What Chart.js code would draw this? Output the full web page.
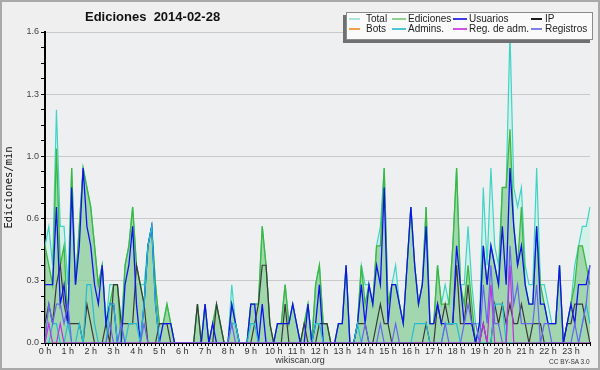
<!DOCTYPE html>
<html><head><meta charset="utf-8">
<script src="https://cdn.jsdelivr.net/npm/chart.js@4.4.1/dist/chart.umd.min.js"></script>
<style>
html,body{margin:0;padding:0;background:#efefef;}
#wrap{position:relative;width:600px;height:370px;background:#efefef;overflow:hidden;}
#wrap canvas{position:absolute;left:0;top:0;}
#frame{position:absolute;left:0;top:0;width:600px;height:370px;box-sizing:border-box;border:2px solid #a9a9a9;pointer-events:none;}
.t{position:absolute;white-space:pre;font-family:"Liberation Sans",Arial,sans-serif;color:#222;}
#title{left:85px;top:10px;font-size:13px;line-height:13px;font-weight:bold;color:#111;}
#lbox{position:absolute;left:346px;top:12px;width:247px;height:28px;box-sizing:border-box;background:#fafafa;border:1px solid #8a8a8a;box-shadow:-3px 3px 0 #707070;}
.sw{position:absolute;height:1.5px;}
.lt{font-size:10px;line-height:10px;color:#222;}
#site{left:0;width:600px;text-align:center;top:356px;font-size:9px;line-height:9px;color:#333;}
#cc{left:549px;top:359px;font-size:6.5px;line-height:6.5px;color:#333;}
</style></head>
<body>
<div id="wrap">
<canvas id="c" width="600" height="370"></canvas>
<div class="t" id="title">Ediciones  2014-02-28</div>
<div id="lbox"></div>
<div id="legend"></div>
<div class="t" id="site">wikiscan.org</div>
<div class="t" id="cc">CC BY-SA 3.0</div>
<div id="frame"></div>
</div>
<script>
// ---- data (edits per minute, 10-minute bins, 00:00 .. 23:50) ----
const hourLabels = ["0 h","1 h","2 h","3 h","4 h","5 h","6 h","7 h","8 h","9 h","10 h","11 h",
  "12 h","13 h","14 h","15 h","16 h","17 h","18 h","19 h","20 h","21 h","22 h","23 h"];
const yTickLabels = ["0.0","0.3","0.6","1.0","1.3","1.6"];

const total = [
 0.5,0.6,0.4,1.2,0.6,0.6, 0.3,0.9,0.3,0.6,0.9,0.8, 0.7,0.5,0.3,0.4,0.1,0.3, 0.3,0.3,0.1,0.4,0.5,0.7, 0.4,0.3,0.3,0.5,0.6,0.3, 0.1,0.1,0.2,0.1,0,0,
 0,0,0,0,0.2,0, 0.2,0,0.1,0.2,0.1,0, 0,0.3,0.1,0,0,0, 0.2,0.2,0.2,0.6,0.4,0.1, 0,0.1,0.1,0.3,0.1,0.2, 0.1,0,0.1,0.2,0,0.3,
 0.4,0.1,0.1,0,0,0.1, 0.1,0.4,0,0,0.1,0.4, 0.3,0.3,0.2,0.5,0.6,0.9, 0.2,0.3,0.4,0.2,0.1,0.4, 0.7,0.4,0.2,0.3,0.7,0.1, 0.1,0.4,0.2,0.3,0.2,0.5,
 0.9,0.3,0.3,0.6,0.3,0.1, 0.1,0.8,0.4,0.9,0.5,0.4, 0.8,0.8,1.6,0.8,0.7,0.8, 0.4,0.3,0.3,0.9,0.3,0.3, 0.2,0.1,0.1,0.4,0,0.1, 0.2,0.4,0.5,0.6,0.6,0.7];
const ediciones = [
 0.5,0.4,0.3,1.0,0.4,0.5, 0.1,0.9,0.3,0.6,0.9,0.8, 0.7,0.5,0.3,0.4,0.1,0.2, 0.3,0.3,0,0.4,0.5,0.7, 0.4,0.3,0.2,0.5,0.6,0.3, 0.1,0.1,0.2,0.1,0,0,
 0,0,0,0,0.2,0, 0.2,0,0.1,0.2,0.1,0, 0,0.2,0.1,0,0,0, 0.2,0.2,0.2,0.6,0.4,0.1, 0,0.1,0.1,0.3,0.1,0.2, 0.1,0,0.1,0.2,0,0.3,
 0.4,0.1,0.1,0,0,0.1, 0.1,0.4,0,0,0.1,0.4, 0.2,0.3,0.2,0.5,0.5,0.9, 0.2,0.3,0.3,0.2,0.1,0.4, 0.7,0.4,0.2,0.3,0.7,0.1, 0.1,0.4,0.2,0.2,0.2,0.5,
 0.9,0.3,0.2,0.4,0.2,0, 0.1,0.5,0.3,0.5,0.4,0.3, 0.8,0.8,1.1,0.6,0.4,0.7, 0.3,0.2,0.2,0.6,0.3,0.2, 0.1,0.1,0.1,0.4,0,0.1, 0.2,0.3,0.5,0.5,0.4,0.3];
const usuarios = [
 0.3,0.3,0.3,0.7,0.2,0.3, 0.1,0.8,0.3,0.5,0.9,0.6, 0.5,0.3,0.2,0.4,0.1,0.2, 0.2,0,0,0.3,0.4,0.6, 0.2,0,0.2,0.5,0.6,0.2, 0,0.1,0.1,0.1,0,0,
 0,0,0,0,0,0, 0.2,0,0.1,0,0,0, 0,0.2,0.1,0,0,0, 0.2,0.2,0,0.2,0,0, 0,0.1,0.1,0.1,0.1,0.2, 0.1,0,0,0.2,0,0.1,
 0.3,0,0,0,0,0.1, 0.1,0.4,0,0,0.1,0.3, 0.1,0.3,0.2,0.4,0.3,0.8, 0.1,0.3,0.3,0.2,0.1,0.4, 0.7,0.4,0.2,0.3,0.6,0.1, 0.1,0.2,0.1,0.1,0.1,0.1,
 0.5,0.3,0.1,0.1,0.1,0, 0.1,0.5,0.3,0.5,0.4,0.3, 0.6,0.3,0.9,0.6,0.4,0.5, 0.3,0.2,0.2,0.6,0.2,0.2, 0.1,0.1,0.1,0.4,0,0.1, 0.2,0.1,0.3,0.3,0.3,0.4];
const ip = [
 0.1,0.2,0.1,0.3,0.4,0.2, 0.1,0.1,0.1,0.1,0,0.2, 0.1,0,0,0,0.1,0, 0.3,0.3,0.1,0.1,0.1,0.1, 0.4,0.3,0.2,0,0,0, 0.1,0.1,0.1,0,0,0,
 0,0,0,0,0.2,0, 0,0,0,0.2,0.1,0, 0,0,0,0,0,0, 0,0.1,0.2,0.4,0.4,0.1, 0,0,0,0.2,0,0, 0,0,0.1,0,0,0,
 0.1,0.1,0.1,0,0,0, 0,0,0,0,0.1,0.1, 0.1,0,0,0.1,0.2,0.1, 0.1,0,0,0,0,0, 0,0,0,0,0.1,0, 0,0.2,0.1,0.2,0.1,0.1,
 0.4,0.1,0.1,0.3,0.1,0, 0,0.1,0,0,0.2,0.1, 0.2,0.1,0.2,0.1,0.1,0.2, 0.1,0,0.1,0.1,0.1,0, 0,0,0,0,0,0.1, 0.1,0.2,0.2,0.2,0.1,0];
const bots = [
 0,0,0,0,0,0, 0,0,0,0,0,0, 0,0,0,0,0,0, 0,0,0,0,0,0, 0,0,0,0,0,0, 0,0,0,0,0,0,
 0,0,0,0,0,0, 0,0,0,0,0,0, 0,0,0,0,0,0, 0,0,0,0,0,0, 0,0,0,0,0,0, 0,0,0,0,0,0,
 0,0,0,0,0,0, 0,0,0,0,0,0, 0,0,0,0,0,0, 0,0,0,0,0,0, 0,0,0,0,0,0, 0,0,0,0,0,0,
 0,0,0,0,0,0, 0,0,0,0,0,0, 0,0,0,0,0,0, 0,0,0,0,0,0, 0,0,0,0,0,0, 0,0,0,0,0,0];
const admins = [
 0,0,0.1,0.1,0,0, 0.1,0,0,0.1,0,0.3, 0.3,0.1,0,0,0,0.2, 0.2,0,0,0,0.1,0.1, 0.1,0,0.2,0.5,0.6,0.2, 0,0,0,0,0,0,
 0,0,0,0,0,0, 0,0,0,0,0,0, 0,0.1,0.1,0,0,0, 0.1,0.1,0,0,0,0, 0,0,0,0,0,0, 0,0,0,0,0,0.1,
 0.1,0,0,0,0,0, 0,0,0,0,0.1,0, 0,0,0,0,0,0, 0,0,0,0,0,0, 0,0.1,0.1,0.1,0.1,0, 0,0,0,0.1,0.1,0.1,
 0.1,0,0,0,0,0, 0,0,0,0,0.2,0.2, 0.2,0,0,0,0,0, 0,0,0,0,0,0, 0,0,0,0,0,0, 0,0,0,0.1,0.2,0.1];
const regAdm = [
 0,0.1,0,0,0.1,0, 0,0,0,0,0,0, 0,0,0,0,0,0, 0,0,0,0,0,0, 0,0,0,0,0,0, 0,0,0,0,0,0,
 0,0,0,0,0,0, 0,0,0,0,0,0, 0,0,0,0,0,0, 0,0,0,0,0,0, 0,0,0,0,0,0, 0,0,0,0,0,0,
 0,0,0,0,0,0, 0,0,0,0,0,0, 0,0,0,0,0,0, 0,0,0,0,0,0, 0,0,0,0,0,0, 0,0,0,0,0,0,
 0,0,0,0,0,0, 0,0.1,0,0.3,0,0, 0,0,0.4,0,0,0, 0,0,0,0,0,0, 0,0,0,0,0,0, 0,0,0,0,0,0];
const registros = [
 0,0.2,0.1,0.2,0.2,0.1, 0.2,0,0,0,0,0, 0,0,0,0,0,0.1, 0,0,0.1,0,0,0, 0,0,0.1,0,0,0, 0,0,0,0,0,0,
 0,0,0,0,0,0, 0,0,0,0,0,0, 0,0.1,0,0,0,0, 0,0,0,0,0,0, 0,0,0,0,0,0, 0,0,0,0,0,0,
 0,0,0,0,0,0, 0,0,0,0,0,0, 0.1,0,0,0,0.1,0, 0,0,0.1,0,0,0, 0,0,0,0,0,0, 0,0,0,0.1,0,0,
 0,0,0.1,0.2,0.1,0.1, 0,0.3,0.1,0.4,0.1,0.1, 0,0,0.5,0.2,0.3,0.1, 0.1,0.1,0.1,0.3,0,0.1, 0.1,0,0,0,0,0, 0,0.1,0,0.1,0.2,0.4];

// time categories (one every 10 minutes)
const times = [];
for (let h = 0; h < 24; h++) for (let m = 0; m < 60; m += 10) times.push(h + ":" + String(m).padStart(2, "0"));

const series = [
  {name:"Total",        data:total,     line:"#3fd4c6", sw:"#a9e5dc", width:1.2, fill:"rgba(190,240,225,0.55)", order:10},
  {name:"Ediciones",    data:ediciones, line:"#3cb83c", sw:"#8fd28f", width:1.3, fill:"rgba(105,184,105,0.46)", order:9},
  {name:"Usuarios",     data:usuarios,  line:"#1212f0", sw:"#3c3ce0", width:1.3, order:6},
  {name:"IP",           data:ip,        line:"#3a3a3a", sw:"#1e1e1e", width:1.2, order:7},
  {name:"Bots",         data:bots,      line:"#ff9a30", sw:"#f2a04a", width:1.0, order:11},
  {name:"Admins.",      data:admins,    line:"#22bdd6", sw:"#4cc6d6", width:1.2, order:5},
  {name:"Reg. de adm.", data:regAdm,    line:"#c030e0", sw:"#d052e2", width:1.2, order:3},
  {name:"Registros",    data:registros, line:"#6666f0", sw:"#8080e2", width:1.2, order:4}
];

// ---- legend (HTML, real text) ----
const leg = document.getElementById("legend");
const colX = [[349,11,366],[392,14,408],[453,14,469],[531,11,545]];
const rowY = [[19,14.2],[29,23.8]];
series.forEach((s, k) => {
  const c = colX[k % 4], r = rowY[Math.floor(k / 4)];
  const sw = document.createElement("div");
  sw.className = "sw";
  sw.style.cssText = `position:absolute;left:${c[0]}px;top:${r[0]-0.75}px;width:${c[1]}px;background:${s.sw};`;
  const tx = document.createElement("div");
  tx.className = "t lt";
  tx.style.left = c[2] + "px"; tx.style.top = r[1] + "px";
  tx.textContent = s.name;
  leg.appendChild(sw); leg.appendChild(tx);
});

// ---- chart ----
const bgPlugin = {
  id: "bg",
  beforeDraw(chart) {
    const {ctx, chartArea: a} = chart;
    ctx.save();
    ctx.fillStyle = "#efefef";
    ctx.fillRect(0, 0, chart.width, chart.height);
    ctx.fillStyle = "#eeeff1";
    ctx.fillRect(a.left, a.top, a.right - a.left, a.bottom - a.top);
    ctx.restore();
  }
};

new Chart(document.getElementById("c"), {
  type: "line",
  data: {
    labels: times,
    datasets: series.map(s => ({
      label: s.name,
      data: s.data,
      borderColor: s.line,
      borderWidth: s.width,
      backgroundColor: s.fill || "transparent",
      fill: s.fill ? "origin" : false,
      pointRadius: 0,
      tension: 0,
      order: s.order
    }))
  },
  options: {
    responsive: false,
    animation: false,
    devicePixelRatio: 1,
    layout: { padding: { left: 0, right: 10, top: 32, bottom: 0 } },
    plugins: { legend: { display: false }, tooltip: { enabled: false }, title: { display: false } },
    scales: {
      x: {
        type: "category",
        ticks: {
          autoSkip: false, maxRotation: 0, minRotation: 0, padding: 0,
          font: { family: "Liberation Sans", size: 9 }, color: "#333",
          callback: (v, i) => (i % 6 === 0 ? hourLabels[i / 6] : "")
        },
        grid: { drawOnChartArea: false, drawTicks: true, tickLength: 3, tickColor: "#000", tickWidth: 1 },
        border: { color: "#000", width: 2 },
        afterFit: s => { s.height = 27; }
      },
      y: {
        min: 0, max: 1.6,
        ticks: {
          stepSize: 0.08, autoSkip: false, padding: 2,
          font: { family: "Liberation Sans", size: 9 }, color: "#444",
          callback: (v, i) => (i % 4 === 0 ? yTickLabels[i / 4] : "")
        },
        grid: {
          color: c => (c.index % 4 === 0 ? "#c9c9c9" : "rgba(0,0,0,0)"),
          lineWidth: 1, drawTicks: true, tickLength: 4, tickColor: "#000", tickWidth: 1
        },
        border: { color: "#000", width: 2 },
        title: { display: true, text: "Ediciones/min", font: { family: "DejaVu Sans Mono", size: 10.5 }, color: "#111", padding: { top: 3, bottom: 0 } },
        afterFit: s => { s.width = 45; }
      }
    }
  },
  plugins: [bgPlugin]
});
</script>
</body></html>
